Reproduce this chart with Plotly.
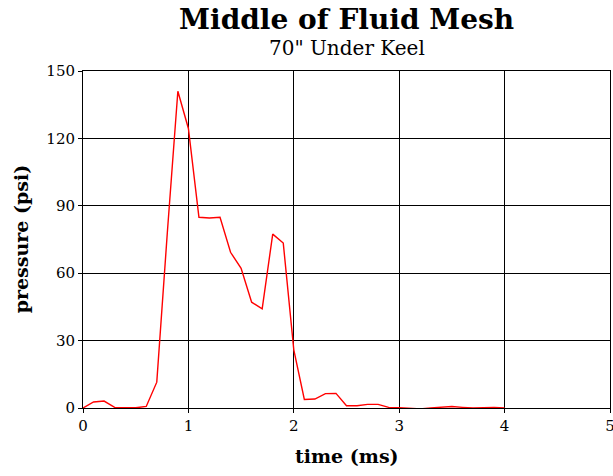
import plotly.graph_objects as go

time_ms = [0.0, 0.1, 0.2, 0.3, 0.4, 0.5, 0.6, 0.7, 0.8, 0.9,
           1.0, 1.1, 1.2, 1.3, 1.4, 1.5, 1.6, 1.7, 1.8, 1.9,
           2.0, 2.1, 2.2, 2.3, 2.4, 2.5, 2.6, 2.7, 2.8, 2.9,
           3.0, 3.1, 3.2, 3.3, 3.4, 3.5, 3.6, 3.7, 3.8, 3.9, 4.0]
pressure_psi = [0.0, 2.7, 3.1, 0.3, 0.1, 0.1, 0.7, 11.5, 78.0, 141.0,
                124.4, 84.9, 84.6, 84.9, 69.3, 62.2, 47.1, 44.1, 77.4, 73.4,
                25.9, 3.8, 4.0, 6.4, 6.5, 1.0, 1.0, 1.6, 1.6, 0.3,
                0.15, 0.0, -0.4, 0.0, 0.3, 0.7, 0.3, 0.0, 0.15, 0.3, 0.0]

x_ticks = [0, 1, 2, 3, 4, 5]
y_ticks = [0, 30, 60, 90, 120, 150]

title_text = "Middle of Fluid Mesh"
subtitle_text = "70\" Under Keel"
x_title = "time (ms)"
y_title = "pressure (psi)"

serif = "DejaVu Serif, Liberation Serif, serif"

fig = go.Figure(
    go.Scatter(
        x=time_ms,
        y=pressure_psi,
        mode="lines",
        line=dict(color="#ff0000", width=1.4),
        showlegend=False,
    )
)

axis_common = dict(
    showgrid=True,
    gridcolor="#000000",
    gridwidth=1,
    showline=True,
    linecolor="#000000",
    linewidth=1,
    mirror=True,
    ticks="outside",
    ticklen=4,
    tickcolor="#000000",
    zeroline=False,
    automargin=False,
    ticklabeloverflow="allow",
    tickfont=dict(family=serif, size=15, color="#000000"),
)

fig.update_layout(
    width=613,
    height=476,
    paper_bgcolor="white",
    plot_bgcolor="white",
    margin=dict(l=83, r=3, t=71, b=68),
    xaxis=dict(axis_common, range=[0, 5], tickvals=x_ticks),
    yaxis=dict(axis_common, range=[0, 150], tickvals=y_ticks),
)

# titles placed as annotations so they sit where the reference has them
fig.add_annotation(text="<b>" + title_text + "</b>", xref="paper", yref="paper",
                   x=0.5, y=1.154, showarrow=False, xanchor="center", yanchor="middle",
                   font=dict(family=serif, size=28, color="#000000"))
fig.add_annotation(text=subtitle_text, xref="paper", yref="paper",
                   x=0.5, y=1.068, showarrow=False, xanchor="center", yanchor="middle",
                   font=dict(family=serif, size=20, color="#000000"))
fig.add_annotation(text="<b>" + x_title + "</b>", xref="paper", yref="paper",
                   x=0.5, y=-0.142, showarrow=False, xanchor="center", yanchor="middle",
                   font=dict(family=serif, size=19, color="#000000"))
fig.add_annotation(text="<b>" + y_title + "</b>", xref="paper", yref="paper",
                   x=-0.118, y=0.5, showarrow=False, xanchor="center", yanchor="middle",
                   textangle=-90, font=dict(family=serif, size=19, color="#000000"))

# drop the default 8px page margin so the figure fills the window exactly
fig.write_html("out.html", config={"displayModeBar": False},
               post_script="document.body.style.margin='0';")
